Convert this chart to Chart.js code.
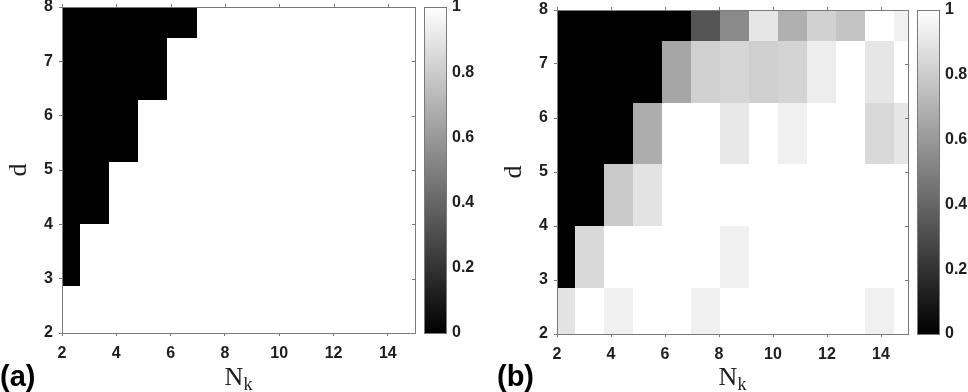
<!DOCTYPE html>
<html><head><meta charset="utf-8">
<script src="https://cdn.jsdelivr.net/npm/chart.js@4.4.0/dist/chart.umd.min.js"></script>
<style>
html,body{margin:0;padding:0;background:#fff;}
#wrap{position:relative;width:968px;height:392px;overflow:hidden;background:#fff;}
.pane{position:absolute;top:0;width:484px;height:392px;}
</style></head><body>
<div id="wrap">
<div class="pane" style="left:0"><canvas id="chartA" width="484" height="392"></canvas></div>
<div class="pane" style="left:484px"><canvas id="chartB" width="484" height="392"></canvas></div>
</div>
<script>
// ---- data ----
// N_k value at the centre of each image column (13 columns)
const nkCentres = [2.12, 3.19, 4.27, 5.35, 6.42, 7.50, 8.57, 9.65, 10.72, 11.80, 12.87, 13.95, 15.03];
// d value at the centre of each image row, bottom to top (6 rows)
const dCentres = [2.286, 3.429, 4.571, 5.714, 6.857, 8.0];
const xTickValues = [2, 4, 6, 8, 10, 12, 14];
const yTickValues = [2, 3, 4, 5, 6, 7, 8];
const colorbarTicks = [0, 0.2, 0.4, 0.6, 0.8, 1];
const colorbarLabels = ['0', '0.2', '0.4', '0.6', '0.8', '1'];
const panelLabels = ['(a)', '(b)'];
const xTitle = ['N', 'k'];
const yTitle = 'd';
// panel (a): rows bottom -> top, columns left -> right
const valuesA = [
  [1, 1, 1, 1, 1, 1, 1, 1, 1, 1, 1, 1, 1],
  [0, 1, 1, 1, 1, 1, 1, 1, 1, 1, 1, 1, 1],
  [0, 0, 1, 1, 1, 1, 1, 1, 1, 1, 1, 1, 1],
  [0, 0, 0, 1, 1, 1, 1, 1, 1, 1, 1, 1, 1],
  [0, 0, 0, 0, 1, 1, 1, 1, 1, 1, 1, 1, 1],
  [0, 0, 0, 0, 0, 1, 1, 1, 1, 1, 1, 1, 1]
];
// panel (b)
const valuesB = [
  [0.89, 1, 0.94, 1, 1, 0.94, 1, 1, 1, 1, 1, 0.94, 1],
  [0, 0.85, 1, 1, 1, 1, 0.94, 1, 1, 1, 1, 1, 1],
  [0, 0, 0.79, 0.89, 1, 1, 1, 1, 1, 1, 1, 1, 1],
  [0, 0, 0, 0.68, 1, 1, 0.91, 1, 0.94, 1, 1, 0.85, 0.90],
  [0, 0, 0, 0, 0.65, 0.82, 0.84, 0.81, 0.83, 0.93, 1, 0.90, 1],
  [0, 0, 0, 0, 0, 0.33, 0.54, 0.90, 0.69, 0.82, 0.77, 1, 0.94]
];

// ---- helpers ----
function edgesFromCentres(c) {
  const e = [];
  e.push(c[0] - (c[1] - c[0]) / 2);
  for (let i = 1; i < c.length; i++) e.push((c[i - 1] + c[i]) / 2);
  e.push(c[c.length - 1] + (c[c.length - 1] - c[c.length - 2]) / 2);
  return e;
}
function buildCells(values) {
  const xe = edgesFromCentres(nkCentres), ye = edgesFromCentres(dCentres);
  const cells = [];
  values.forEach((row, r) => row.forEach((v, c) => {
    cells.push({x: nkCentres[c], y: dCentres[r], v: v, x0: xe[c], x1: xe[c + 1], y0: ye[r], y1: ye[r + 1]});
  }));
  return cells;
}
function grey(v) { const g = Math.round(255 * v); return 'rgb(' + g + ',' + g + ',' + g + ')'; }
function zeroPad(s) { s.paddingTop = 0; s.paddingBottom = 0; s.paddingLeft = 0; s.paddingRight = 0; }

const AXIS = '#7a7a7a', TXT = '#1e1e1e';
const tickFont = {family: "'Liberation Sans', Arial, Helvetica, sans-serif", size: 16, weight: 'bold'};

const heatmapPlugin = {
  id: 'heatmap',
  beforeDatasetsDraw(chart) {
    const {ctx, chartArea: a} = chart;
    const xs = chart.scales.x, ys = chart.scales.y;
    ctx.save();
    ctx.beginPath(); ctx.rect(a.left, a.top, a.right - a.left, a.bottom - a.top); ctx.clip();
    chart.data.datasets[0].data.forEach(p => {
      const x0 = Math.round(xs.getPixelForValue(p.x0)), x1 = Math.round(xs.getPixelForValue(p.x1));
      const yb = Math.round(ys.getPixelForValue(p.y0)), yt = Math.round(ys.getPixelForValue(p.y1));
      ctx.fillStyle = grey(p.v);
      ctx.fillRect(x0, yt, x1 - x0, yb - yt);
    });
    ctx.restore();
  },
  afterDraw(chart, args, opts) {
    const {ctx, chartArea: a} = chart;
    const xs = chart.scales.x, ys = chart.scales.y, cb = chart.scales.cb;
    ctx.save();
    // box + mirrored ticks
    ctx.strokeStyle = AXIS; ctx.lineWidth = 1;
    ctx.strokeRect(Math.round(a.left) + 0.5, Math.round(a.top) + 0.5, Math.round(a.right - a.left), Math.round(a.bottom - a.top));
    ctx.beginPath();
    xTickValues.forEach(v => { const px = Math.round(xs.getPixelForValue(v)) + 0.5; ctx.moveTo(px, a.top); ctx.lineTo(px, a.top - 3); });
    yTickValues.forEach(v => { const py = Math.round(ys.getPixelForValue(v)) + 0.5; ctx.moveTo(a.right, py); ctx.lineTo(a.right - 3, py); });
    ctx.stroke();
    // colorbar
    const cx = Math.round(cb.left) + 9, cw = 22;
    const top = Math.round(cb.getPixelForValue(1)), bot = Math.round(cb.getPixelForValue(0));
    const g = ctx.createLinearGradient(0, bot, 0, top);
    g.addColorStop(0, '#000'); g.addColorStop(1, '#fff');
    ctx.fillStyle = g; ctx.fillRect(cx, top, cw, bot - top);
    ctx.strokeRect(cx + 0.5, top + 0.5, cw, bot - top);
    // x title N_k
    ctx.fillStyle = TXT;
    ctx.textBaseline = 'alphabetic';
    const fN = "26px 'Liberation Serif', 'Times New Roman', serif", fk = "18px 'Liberation Serif', 'Times New Roman', serif";
    ctx.font = fN; const wN = ctx.measureText(xTitle[0]).width;
    ctx.font = fk; const wk = ctx.measureText(xTitle[1]).width;
    const mid = (a.left + a.right) / 2, sx = mid - (wN + wk) / 2;
    ctx.font = fN; ctx.textAlign = 'left'; ctx.fillText(xTitle[0], sx, 385);
    ctx.font = fk; ctx.fillText(xTitle[1], sx + wN, 390);
    // panel label
    ctx.font = "bold 29px 'Liberation Sans', Arial, sans-serif";
    ctx.fillStyle = '#000';
    ctx.fillText(opts.label, opts.labelX, 386);
    ctx.restore();
  }
};

function makeChart(id, values, cfg) {
  return new Chart(document.getElementById(id), {
    type: 'scatter',
    data: {datasets: [{data: buildCells(values), pointRadius: 0, pointHoverRadius: 0}]},
    plugins: [heatmapPlugin],
    options: {
      responsive: false, animation: false, events: [],
      layout: {padding: {left: cfg.padLeft, top: cfg.padTop, right: 0, bottom: 0}},
      plugins: {legend: {display: false}, tooltip: {enabled: false}, heatmap: {label: cfg.label, labelX: cfg.labelX}},
      scales: {
        x: {
          type: 'linear', position: 'bottom', min: 2, max: 15,
          afterBuildTicks: s => { s.ticks = xTickValues.map(v => ({value: v})); },
          afterFit: s => { s.height = cfg.xAxisH; zeroPad(s); },
          ticks: {font: tickFont, color: TXT, padding: 8, maxRotation: 0, autoSkip: false},
          grid: {display: true, drawOnChartArea: false, drawTicks: true, tickLength: 3, color: AXIS},
          border: {display: true, color: AXIS}
        },
        y: {
          type: 'linear', position: 'left', min: 2, max: 8,
          afterBuildTicks: s => { s.ticks = yTickValues.map(v => ({value: v})); },
          afterFit: s => { s.width = cfg.yAxisW; zeroPad(s); },
          ticks: {font: tickFont, color: TXT, padding: 6, autoSkip: false},
          grid: {display: true, drawOnChartArea: false, drawTicks: true, tickLength: 3, color: AXIS},
          border: {display: true, color: AXIS},
          title: {display: true, text: yTitle, color: TXT, padding: {top: 4, bottom: 0},
                  font: {family: "'Liberation Serif', 'Times New Roman', serif", size: 26, weight: 'normal'}}
        },
        cb: {
          type: 'linear', position: 'right', min: 0, max: 1,
          afterBuildTicks: s => { s.ticks = colorbarTicks.map(v => ({value: v})); },
          afterFit: s => { s.width = cfg.cbW; zeroPad(s); },
          ticks: {font: tickFont, color: TXT, padding: 37, autoSkip: false,
                  callback: (v) => colorbarLabels[colorbarTicks.indexOf(v)]},
          grid: {display: false, drawTicks: false},
          border: {display: false}
        }
      }
    }
  });
}

makeChart('chartA', valuesA, {padLeft: 0, padTop: 7, yAxisW: 62, xAxisH: 59, cbW: 69, label: panelLabels[0], labelX: 0});
makeChart('chartB', valuesB, {padLeft: 11, padTop: 10, yAxisW: 62, xAxisH: 58, cbW: 60, label: panelLabels[1], labelX: 13});
</script>
</body></html>
